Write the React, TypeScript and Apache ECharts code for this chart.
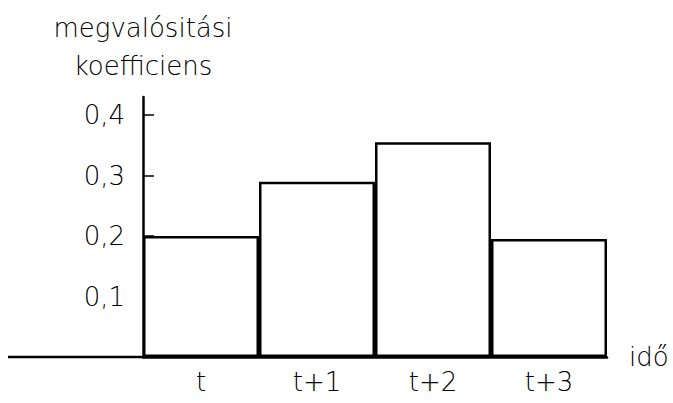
import React, { useEffect, useRef } from "react";
import * as echarts from "echarts";

const categories = ["t", "t+1", "t+2", "t+3"];
const values = [0.2, 0.29, 0.355, 0.195];
const yTicks = [0.1, 0.2, 0.3, 0.4];
const yTitle = "megvalósitási\nkoefficiens";
const xTitle = "idő";

const FONT = "DejaVu Sans";
const WEIGHT = 200;

export default function App() {
  const ref = useRef<HTMLDivElement>(null);
  useEffect(() => {
    if (!ref.current) return;
    const chart = echarts.init(ref.current, null, { renderer: "svg" });
    chart.setOption({
      animation: false,
      backgroundColor: "#ffffff",
      textStyle: { fontFamily: FONT, color: "#000", fontWeight: WEIGHT },
      grid: { left: 143, right: 66, top: 97, bottom: 46 },
      xAxis: {
        type: "category",
        data: categories,
        name: xTitle,
        nameLocation: "end",
        nameGap: 22,
        nameTextStyle: { fontSize: 26, color: "#000", fontFamily: FONT, fontWeight: WEIGHT },
        axisLine: { lineStyle: { color: "#000", width: 2.5 } },
        axisTick: { show: false },
        axisLabel: { fontSize: 26, color: "#000", margin: 12, fontFamily: FONT, fontWeight: WEIGHT },
        splitLine: { show: false },
      },
      yAxis: {
        type: "value",
        min: 0,
        max: 0.43,
        name: yTitle,
        nameLocation: "end",
        nameGap: 12,
        nameTextStyle: {
          fontSize: 26,
          color: "#000",
          fontFamily: FONT,
          fontWeight: WEIGHT,
          lineHeight: 38,
          align: "center",
        },
        axisLine: { show: true, lineStyle: { color: "#000", width: 2.5 } },
        axisTick: {
          show: true,
          inside: true,
          length: 11,
          customValues: yTicks,
          lineStyle: { color: "#000", width: 1.5 },
        },
        axisLabel: {
          customValues: yTicks,
          fontSize: 26,
          color: "#000",
          margin: 18,
          fontFamily: FONT,
          fontWeight: WEIGHT,
          formatter: (v: number) => v.toFixed(1).replace(".", ","),
        },
        splitLine: { show: false },
      },
      graphic: [
        {
          type: "line",
          shape: { x1: 8, y1: 357, x2: 143, y2: 357 },
          style: { stroke: "#000", lineWidth: 2.5 },
          z: 10,
        },
      ],
      series: [
        {
          type: "bar",
          data: values,
          barCategoryGap: "0%",
          itemStyle: { color: "#ffffff", borderColor: "#000", borderWidth: 2.5 },
        },
      ],
    });
    return () => chart.dispose();
  }, []);
  return (
    <div
      ref={ref}
      style={{ position: "fixed", left: 0, top: 0, width: 673, height: 403, background: "#fff" }}
    />
  );
}
